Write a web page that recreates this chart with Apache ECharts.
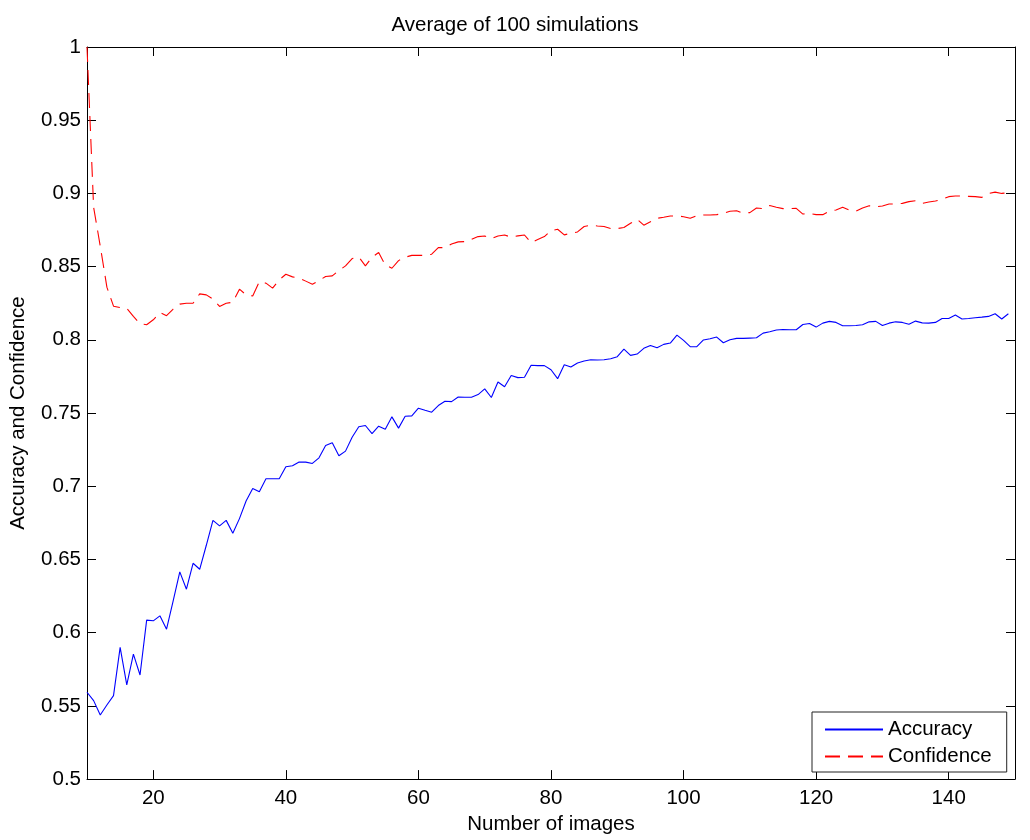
<!DOCTYPE html>
<html>
<head>
<meta charset="utf-8">
<script src="https://cdn.jsdelivr.net/npm/echarts@6/dist/echarts.min.js"></script>
<style>
html,body{margin:0;padding:0;background:#fff;}
#chart{width:1030px;height:840px;}
</style>
</head>
<body>
<div id="chart"></div>
<script>
// Number of images (x values)
const imageCounts = [
 10,11,12,13,14,15,16,17,18,19,20,21,22,23,24,25,26,27,28,29,
 30,31,32,33,34,35,36,37,38,39,40,41,42,43,44,45,46,47,48,49,
 50,51,52,53,54,55,56,57,58,59,60,61,62,63,64,65,66,67,68,69,
 70,71,72,73,74,75,76,77,78,79,80,81,82,83,84,85,86,87,88,89,
 90,91,92,93,94,95,96,97,98,99,100,101,102,103,104,105,106,107,108,109,
 110,111,112,113,114,115,116,117,118,119,120,121,122,123,124,125,126,127,128,129,
 130,131,132,133,134,135,136,137,138,139,140,141,142,143,144,145,146,147,148,149
];
const accuracy = [
 0.5593,0.5536,0.5438,0.5506,0.5570,0.5900,0.5643,0.5854,0.5711,0.6086,
 0.6081,0.6115,0.6024,0.6218,0.6415,0.6297,0.6474,0.6433,0.6597,0.6767,
 0.6729,0.6767,0.6679,0.6779,0.6899,0.6985,0.6963,0.7051,0.7051,0.7051,
 0.7133,0.7140,0.7166,0.7165,0.7156,0.7194,0.7279,0.7297,0.7208,0.7240,
 0.7335,0.7406,0.7415,0.7360,0.7410,0.7390,0.7474,0.7397,0.7478,0.7481,
 0.7533,0.7519,0.7506,0.7551,0.7581,0.7578,0.7610,0.7608,0.7608,0.7626,
 0.7665,0.7606,0.7712,0.7680,0.7756,0.7742,0.7744,0.7826,0.7824,0.7824,
 0.7796,0.7735,0.7830,0.7814,0.7842,0.7855,0.7864,0.7862,0.7864,0.7871,
 0.7885,0.7937,0.7894,0.7903,0.7942,0.7962,0.7946,0.7969,0.7978,0.8032,
 0.7996,0.7953,0.7953,0.7999,0.8008,0.8019,0.7980,0.8001,0.8010,0.8010,
 0.8012,0.8014,0.8046,0.8055,0.8067,0.8071,0.8069,0.8069,0.8105,0.8112,
 0.8087,0.8114,0.8126,0.8119,0.8096,0.8096,0.8098,0.8103,0.8123,0.8126,
 0.8098,0.8114,0.8123,0.8119,0.8107,0.8128,0.8116,0.8114,0.8119,0.8146,
 0.8146,0.8169,0.8142,0.8146,0.8151,0.8155,0.8160,0.8178,0.8142,0.8178
];
const confidence = [
 1.0000,0.8905,0.8640,0.8360,0.8230,0.8220,0.8215,0.8160,0.8110,0.8103,
 0.8137,0.8187,0.8165,0.8210,0.8244,0.8250,0.8250,0.8314,0.8307,0.8278,
 0.8228,0.8250,0.8257,0.8346,0.8307,0.8300,0.8398,0.8387,0.8353,0.8410,
 0.8448,0.8430,0.8422,0.8401,0.8380,0.8405,0.8433,0.8437,0.8473,0.8505,
 0.8555,0.8566,0.8505,0.8564,0.8596,0.8511,0.8489,0.8541,0.8564,0.8577,
 0.8577,0.8577,0.8585,0.8630,0.8630,0.8655,0.8669,0.8671,0.8687,0.8705,
 0.8709,0.8691,0.8709,0.8716,0.8701,0.8710,0.8716,0.8664,0.8685,0.8705,
 0.8746,0.8755,0.8717,0.8728,0.8737,0.8774,0.8783,0.8778,0.8774,0.8760,
 0.8760,0.8767,0.8796,0.8823,0.8783,0.8807,0.8830,0.8837,0.8846,0.8846,
 0.8841,0.8830,0.8848,0.8853,0.8853,0.8855,0.8864,0.8878,0.8882,0.8864,
 0.8869,0.8900,0.8896,0.8918,0.8905,0.8896,0.8896,0.8898,0.8859,0.8864,
 0.8855,0.8855,0.8878,0.8887,0.8905,0.8887,0.8878,0.8900,0.8916,0.8909,
 0.8914,0.8928,0.8928,0.8932,0.8944,0.8950,0.8932,0.8941,0.8948,0.8959,
 0.8978,0.8982,0.8982,0.8980,0.8978,0.8973,0.9000,0.9009,0.9000,0.9005
];
const xTicks = [20, 40, 60, 80, 100, 120, 140];

const FONT = '"Liberation Sans", Arial, Helvetica, sans-serif';
const FS = 20.5;

const chart = echarts.init(document.getElementById('chart'), null, {renderer: 'canvas'});
const pairs = (ys) => imageCounts.map((x, i) => [x, ys[i]]);

const axisLineStyle = {color: '#000', width: 1};
const option = {
  animation: false,
  backgroundColor: '#fff',
  textStyle: {fontFamily: FONT},
  title: {
    text: 'Average of 100 simulations',
    left: 'center',
    top: 10,
    textStyle: {fontFamily: FONT, fontSize: FS, fontWeight: 'normal', color: '#000'}
  },
  grid: {left: 85, top: 47, right: 15, bottom: 60, containLabel: false},
  legend: {
    orient: 'vertical',
    left: 812,
    top: 712,
    padding: [7, 15, 5, 12],
    itemGap: 6,
    itemWidth: 58,
    itemHeight: 14,
    backgroundColor: '#fff',
    borderColor: '#222',
    borderWidth: 1,
    itemStyle: {opacity: 0},
    textStyle: {fontFamily: FONT, fontSize: FS, color: '#000'},
    data: ['Accuracy', 'Confidence']
  },
  xAxis: [
    {
      type: 'value', min: 10, max: 150, position: 'bottom',
      name: 'Number of images', nameLocation: 'middle', nameGap: 34,
      nameTextStyle: {fontFamily: FONT, fontSize: FS, color: '#000'},
      axisLine: {show: true, onZero: false, lineStyle: axisLineStyle},
      axisTick: {show: true, inside: true, length: 9, customValues: xTicks, lineStyle: axisLineStyle},
      axisLabel: {show: true, margin: 9, customValues: xTicks, fontFamily: FONT, fontSize: FS, color: '#000'},
      splitLine: {show: false}
    },
    {
      type: 'value', min: 10, max: 150, position: 'top',
      axisLine: {show: true, onZero: false, lineStyle: axisLineStyle},
      axisTick: {show: true, inside: true, length: 9, customValues: xTicks, lineStyle: axisLineStyle},
      axisLabel: {show: false},
      splitLine: {show: false}
    }
  ],
  yAxis: [
    {
      type: 'value', min: 0.5, max: 1, interval: 0.05, position: 'left',
      name: 'Accuracy and Confidence', nameLocation: 'middle', nameGap: 58,
      nameTextStyle: {fontFamily: FONT, fontSize: FS, color: '#000'},
      axisLine: {show: true, onZero: false, lineStyle: axisLineStyle},
      axisTick: {show: true, inside: true, length: 9, lineStyle: axisLineStyle},
      axisLabel: {show: true, margin: 6, fontFamily: FONT, fontSize: FS, color: '#000',
        formatter: (v) => String(Math.round(v * 100) / 100)},
      splitLine: {show: false}
    },
    {
      type: 'value', min: 0.5, max: 1, interval: 0.05, position: 'right',
      axisLine: {show: true, onZero: false, lineStyle: axisLineStyle},
      axisTick: {show: true, inside: true, length: 9, lineStyle: axisLineStyle},
      axisLabel: {show: false},
      splitLine: {show: false}
    }
  ],
  series: [
    {
      name: 'Accuracy', type: 'line', xAxisIndex: 0, yAxisIndex: 0,
      data: pairs(accuracy), symbol: 'none', showSymbol: false,
      lineStyle: {color: '#0000ff', width: 1.1},
      itemStyle: {color: '#0000ff'}
    },
    {
      name: 'Confidence', type: 'line', xAxisIndex: 0, yAxisIndex: 0,
      data: pairs(confidence), symbol: 'none', showSymbol: false,
      lineStyle: {color: '#ff0000', width: 1.1, type: [15, 8]},
      itemStyle: {color: '#ff0000'}
    }
  ]
};
chart.setOption(option);
</script>
</body>
</html>
